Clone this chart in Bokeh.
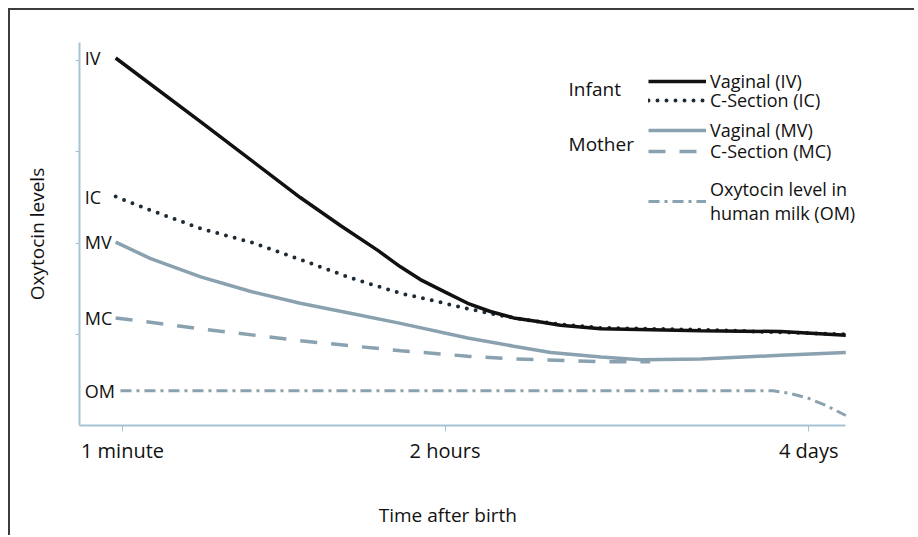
from bokeh.plotting import figure
from bokeh.models import (ColumnDataSource, Legend, LegendItem, Label, LabelSet,
                          FixedTicker, Range1d, LinearAxis)
from bokeh.core.properties import value
from bokeh.embed import file_html
from bokeh.resources import INLINE

# ---- data (positional time scale: 1 minute = 0, 2 hours = 47, 4 days = 100) ----
tick_pos = [0, 47, 100]
tick_labels = ["1 minute", "2 hours", "4 days"]

iv_x = [-1.0, 11.4, 25.9, 31.8, 37.2, 40.5, 43.4, 47.1, 50.3, 53.6, 57.0, 60.5,
        63.8, 69.7, 84.3, 95.9, 105.4]
iv_y = [4.03, 3.33, 2.50, 2.19, 1.92, 1.74, 1.60, 1.46, 1.34, 1.25, 1.18, 1.14,
        1.10, 1.06, 1.04, 1.03, 0.99]

ic_x = [-1.0, 4.1, 11.4, 18.7, 25.9, 33.2, 40.5, 46.4, 50.3, 53.6, 57.0, 60.5,
        63.8, 69.7, 84.3, 105.4]
ic_y = [2.51, 2.36, 2.16, 2.01, 1.82, 1.62, 1.45, 1.35, 1.28, 1.23, 1.18, 1.14,
        1.11, 1.07, 1.05, 1.00]

mv_x = [-1.0, 4.1, 11.4, 18.7, 25.9, 33.2, 40.5, 50.3, 57.0, 62.4, 69.7, 75.5,
        84.3, 95.9, 105.4]
mv_y = [2.01, 1.83, 1.63, 1.47, 1.34, 1.23, 1.12, 0.96, 0.87, 0.80, 0.75, 0.72,
        0.73, 0.77, 0.80]

mc_x = [-1.0, 11.4, 25.9, 40.5, 50.3, 57.0, 69.7, 76.9]
mc_y = [1.18, 1.06, 0.93, 0.82, 0.76, 0.73, 0.70, 0.70]

om_x = [-0.3, 94.8, 97.4, 99.9, 102.5, 105.4]
om_y = [0.38, 0.38, 0.35, 0.30, 0.22, 0.11]

series_names = ["IV", "IC", "MV", "MC", "OM"]

FONT = "Open Sans"
AXIS_COL = "#a6c3d6"
DARK = "#111111"
DOT = "#1e2b35"
GREY = "#8aa1b0"
TXT = "#111111"

X0, X_AXIS_END, X1 = -6.27, 105.4, 109.0

p = figure(width=906, height=527, output_backend="svg", toolbar_location=None,
           x_range=Range1d(X0, X1), y_range=Range1d(0, 4.2),
           min_border_left=69, min_border_right=46, min_border_top=32,
           min_border_bottom=112)
p.styles = {"border-top": "2px solid #3c3c3c", "border-left": "2px solid #3c3c3c",
            "margin-left": "8px", "margin-top": "8px"}
p.outline_line_color = None
p.background_fill_color = "white"
p.border_fill_color = "white"
p.grid.visible = False

# x axis (line stops at the last data point)
xa = p.xaxis[0]
xa.bounds = (X0, X_AXIS_END)
xa.ticker = FixedTicker(ticks=tick_pos)
xa.major_label_overrides = {t: l for t, l in zip(tick_pos, tick_labels)}
xa.minor_tick_line_color = None
xa.axis_line_color = AXIS_COL
xa.axis_line_width = 2
xa.major_tick_line_color = AXIS_COL
xa.major_tick_out = 6
xa.major_tick_in = 0
xa.major_label_standoff = 5
xa.major_label_text_font = FONT
xa.major_label_text_font_size = "20px"
xa.major_label_text_color = TXT

# second, invisible axis carrying the title (padded so it sits under "2 hours")
ax2 = LinearAxis(ticker=FixedTicker(ticks=[]),
                 axis_line_color=None, major_tick_line_color=None,
                 minor_tick_line_color=None,
                 axis_label="Time after birth" + "\u00a0" * 11,
                 axis_label_text_font=FONT, axis_label_text_font_size="19px",
                 axis_label_text_font_style="normal", axis_label_text_color=TXT,
                 axis_label_standoff=35)
p.add_layout(ax2, "below")

ya = p.yaxis[0]
ya.ticker = FixedTicker(ticks=[1, 2, 3, 4])
ya.major_label_overrides = {1: "", 2: "", 3: "", 4: ""}
ya.minor_tick_line_color = None
ya.axis_line_color = AXIS_COL
ya.axis_line_width = 2
ya.major_tick_line_color = AXIS_COL
ya.major_tick_out = 4
ya.major_tick_in = 0
ya.axis_label = "Oxytocin levels"
ya.axis_label_text_font = FONT
ya.axis_label_text_font_size = "19px"
ya.axis_label_text_font_style = "normal"
ya.axis_label_text_color = TXT
ya.axis_label_standoff = 26

# lines
r_om = p.line(om_x, om_y, line_color=GREY, line_width=3, line_dash="11 5 3 5")
r_mc = p.line(mc_x, mc_y, line_color=GREY, line_width=3.5, line_dash="17 14")
r_mv = p.line(mv_x, mv_y, line_color=GREY, line_width=3.5)
r_ic = p.line(ic_x, ic_y, line_color=DOT, line_width=4, line_dash="0 9",
              line_cap="round")
r_iv = p.line(iv_x, iv_y, line_color=DARK, line_width=3.5)

# series labels at line starts
lab_src = ColumnDataSource(dict(
    x=[-5.5] * 5,
    y=[iv_y[0], ic_y[0], mv_y[0], mc_y[0], om_y[0]],
    t=series_names))
p.add_layout(LabelSet(x="x", y="y", text="t", source=lab_src,
                      text_font=value(FONT), text_font_size="18px",
                      text_baseline="middle", text_align="left",
                      text_color=TXT, background_fill_color="white"))

# legend group titles
for txt, yy in [("Infant", 3.69), ("Mother", 3.09)]:
    p.add_layout(Label(x=65.0, y=yy, text=txt, text_font=FONT,
                       text_font_size="19px", text_align="left",
                       text_baseline="middle", text_color=TXT))


def make_legend(label, renderer, loc, lh=1.12):
    lg = Legend(items=[LegendItem(label=label, renderers=[renderer])],
                location=loc, orientation="vertical",
                glyph_width=58, glyph_height=20, label_height=20, spacing=0,
                label_standoff=4, padding=0, margin=0,
                background_fill_alpha=0, border_line_alpha=0,
                label_text_font=FONT, label_text_font_size="18px",
                label_text_color=TXT, label_text_line_height=lh)
    p.add_layout(lg, "center")


make_legend("Vaginal (IV)", r_iv, (569, 332))
make_legend("C-Section (IC)", r_ic, (569, 313))
make_legend("Vaginal (MV)", r_mv, (569, 283))
make_legend("C-Section (MC)", r_mc, (569, 262))
make_legend("Oxytocin level in\nhuman milk (OM)", r_om, (569, 200), lh=0.98)

open("out.html", "w").write(file_html(p, INLINE))
